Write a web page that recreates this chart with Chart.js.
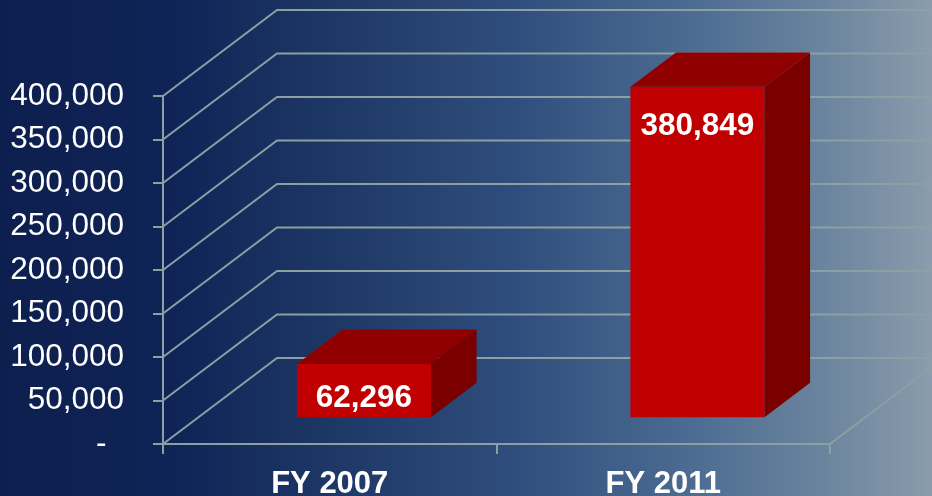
<!DOCTYPE html>
<html>
<head>
<meta charset="utf-8">
<script src="https://cdn.jsdelivr.net/npm/chart.js@4/dist/chart.umd.min.js"></script>
<style>
  html, body { margin: 0; padding: 0; background: #0d1f4e; }
  #wrap { width: 932px; height: 496px; }
</style>
</head>
<body>
<div id="wrap"><canvas id="c" width="932" height="496"></canvas></div>
<script>
// ---- data ----
const categories = ['FY 2007', 'FY 2011'];
const values = [62296, 380849];
const yMin = 0;
const yMax = 400000;
const yStep = 50000;

// ---- style ----
const gridColor = '#8c9fa2';
const frontColor = '#c00000';
const topColor = '#900000';
const sideColor = '#7a0000';
const fontFamily = '"Liberation Sans", Arial, Helvetica, sans-serif';
const DEPTH_X = 114, DEPTH_Y = 86;       // full 3D wall depth
const SHIFT = 0.30;                      // bar front plane position within the depth
const BAR_DEPTH = 0.40;                  // bar depth as fraction of the full depth

const bgPlugin = {
  id: 'bg',
  beforeDraw(chart) {
    const { ctx, width, height } = chart;
    ctx.save();
    const g = ctx.createLinearGradient(0, 0, width, 0);
    g.addColorStop(0, '#0d1f4e');
    g.addColorStop(0.18, '#0f2356');
    g.addColorStop(0.35, '#1d3765');
    g.addColorStop(0.55, '#2f4d7c');
    g.addColorStop(0.75, '#4d6d93');
    g.addColorStop(0.9, '#6f879f');
    g.addColorStop(1, '#8a9cad');
    ctx.fillStyle = g;
    ctx.fillRect(0, 0, width, height);
    ctx.restore();
  }
};

const grid3dPlugin = {
  id: 'grid3d',
  beforeDatasetsDraw(chart) {
    const { ctx, chartArea, scales, width } = chart;
    const y = scales.y;
    ctx.save();
    ctx.strokeStyle = gridColor;
    ctx.lineWidth = 2;
    y.ticks.forEach(t => {
      const yp = y.getPixelForValue(t.value);
      ctx.beginPath();
      ctx.moveTo(chartArea.left, yp);
      ctx.lineTo(chartArea.left + DEPTH_X, yp - DEPTH_Y);
      ctx.lineTo(width, yp - DEPTH_Y);
      ctx.stroke();
    });
    const yb = y.getPixelForValue(yMin);
    ctx.beginPath();
    ctx.moveTo(chartArea.right, yb);
    ctx.lineTo(chartArea.right + DEPTH_X, yb - DEPTH_Y);
    ctx.stroke();
    ctx.restore();
  },
  beforeDatasetDraw(chart) {
    chart.ctx.save();
    chart.ctx.translate(DEPTH_X * SHIFT, -DEPTH_Y * SHIFT);
  },
  afterDatasetDraw(chart, args) {
    const { ctx } = chart;
    const dx = DEPTH_X * BAR_DEPTH, dy = DEPTH_Y * BAR_DEPTH;
    const meta = chart.getDatasetMeta(args.index);
    meta.data.forEach((bar, i) => {
      const l = bar.x - bar.width / 2, r = bar.x + bar.width / 2;
      const top = bar.y, base = bar.base;
      // top face
      ctx.fillStyle = topColor;
      ctx.beginPath();
      ctx.moveTo(l, top);
      ctx.lineTo(l + dx, top - dy);
      ctx.lineTo(r + dx, top - dy);
      ctx.lineTo(r, top);
      ctx.closePath();
      ctx.fill();
      // side face
      ctx.fillStyle = sideColor;
      ctx.beginPath();
      ctx.moveTo(r, top);
      ctx.lineTo(r + dx, top - dy);
      ctx.lineTo(r + dx, base - dy);
      ctx.lineTo(r, base);
      ctx.closePath();
      ctx.fill();
      // value label (inside end)
      const h = base - top;
      const off = Math.min(40, 34 + Math.max(0, h - 53) * 0.02);
      ctx.fillStyle = '#ffffff';
      ctx.font = 'bold 31.5px ' + fontFamily;
      ctx.textAlign = 'center';
      ctx.textBaseline = 'middle';
      ctx.fillText(values[i].toLocaleString('en-US'), bar.x, top + off);
    });
    ctx.restore();
  }
};

new Chart(document.getElementById('c'), {
  type: 'bar',
  data: {
    labels: categories,
    datasets: [{
      data: values,
      backgroundColor: frontColor,
      borderWidth: 0,
      categoryPercentage: 1,
      barPercentage: 0.402
    }]
  },
  options: {
    responsive: false,
    animation: false,
    events: [],
    layout: { padding: { top: 96, right: 102, left: 0, bottom: 0 } },
    plugins: { legend: { display: false }, tooltip: { enabled: false } },
    scales: {
      y: {
        min: yMin,
        max: yMax,
        afterFit(scale) { scale.width = 163; },
        ticks: {
          stepSize: yStep,
          color: '#ffffff',
          padding: 29,
          font: { family: fontFamily, size: 31.5 },
          callback: v => v === 0 ? '-  ' : Number(v).toLocaleString('en-US')
        },
        grid: { drawOnChartArea: false, drawTicks: true, tickLength: 10, color: gridColor, lineWidth: 2 },
        border: { display: true, color: gridColor, width: 2 }
      },
      x: {
        offset: true,
        afterFit(scale) { scale.height = 52; },
        ticks: {
          color: '#ffffff',
          padding: 12,
          font: { family: fontFamily, size: 31, weight: 'bold' }
        },
        grid: { offset: true, drawOnChartArea: false, drawTicks: true, tickLength: 10, color: gridColor, lineWidth: 2 },
        border: { display: true, color: gridColor, width: 2 }
      }
    }
  },
  plugins: [bgPlugin, grid3dPlugin]
});
</script>
</body>
</html>
